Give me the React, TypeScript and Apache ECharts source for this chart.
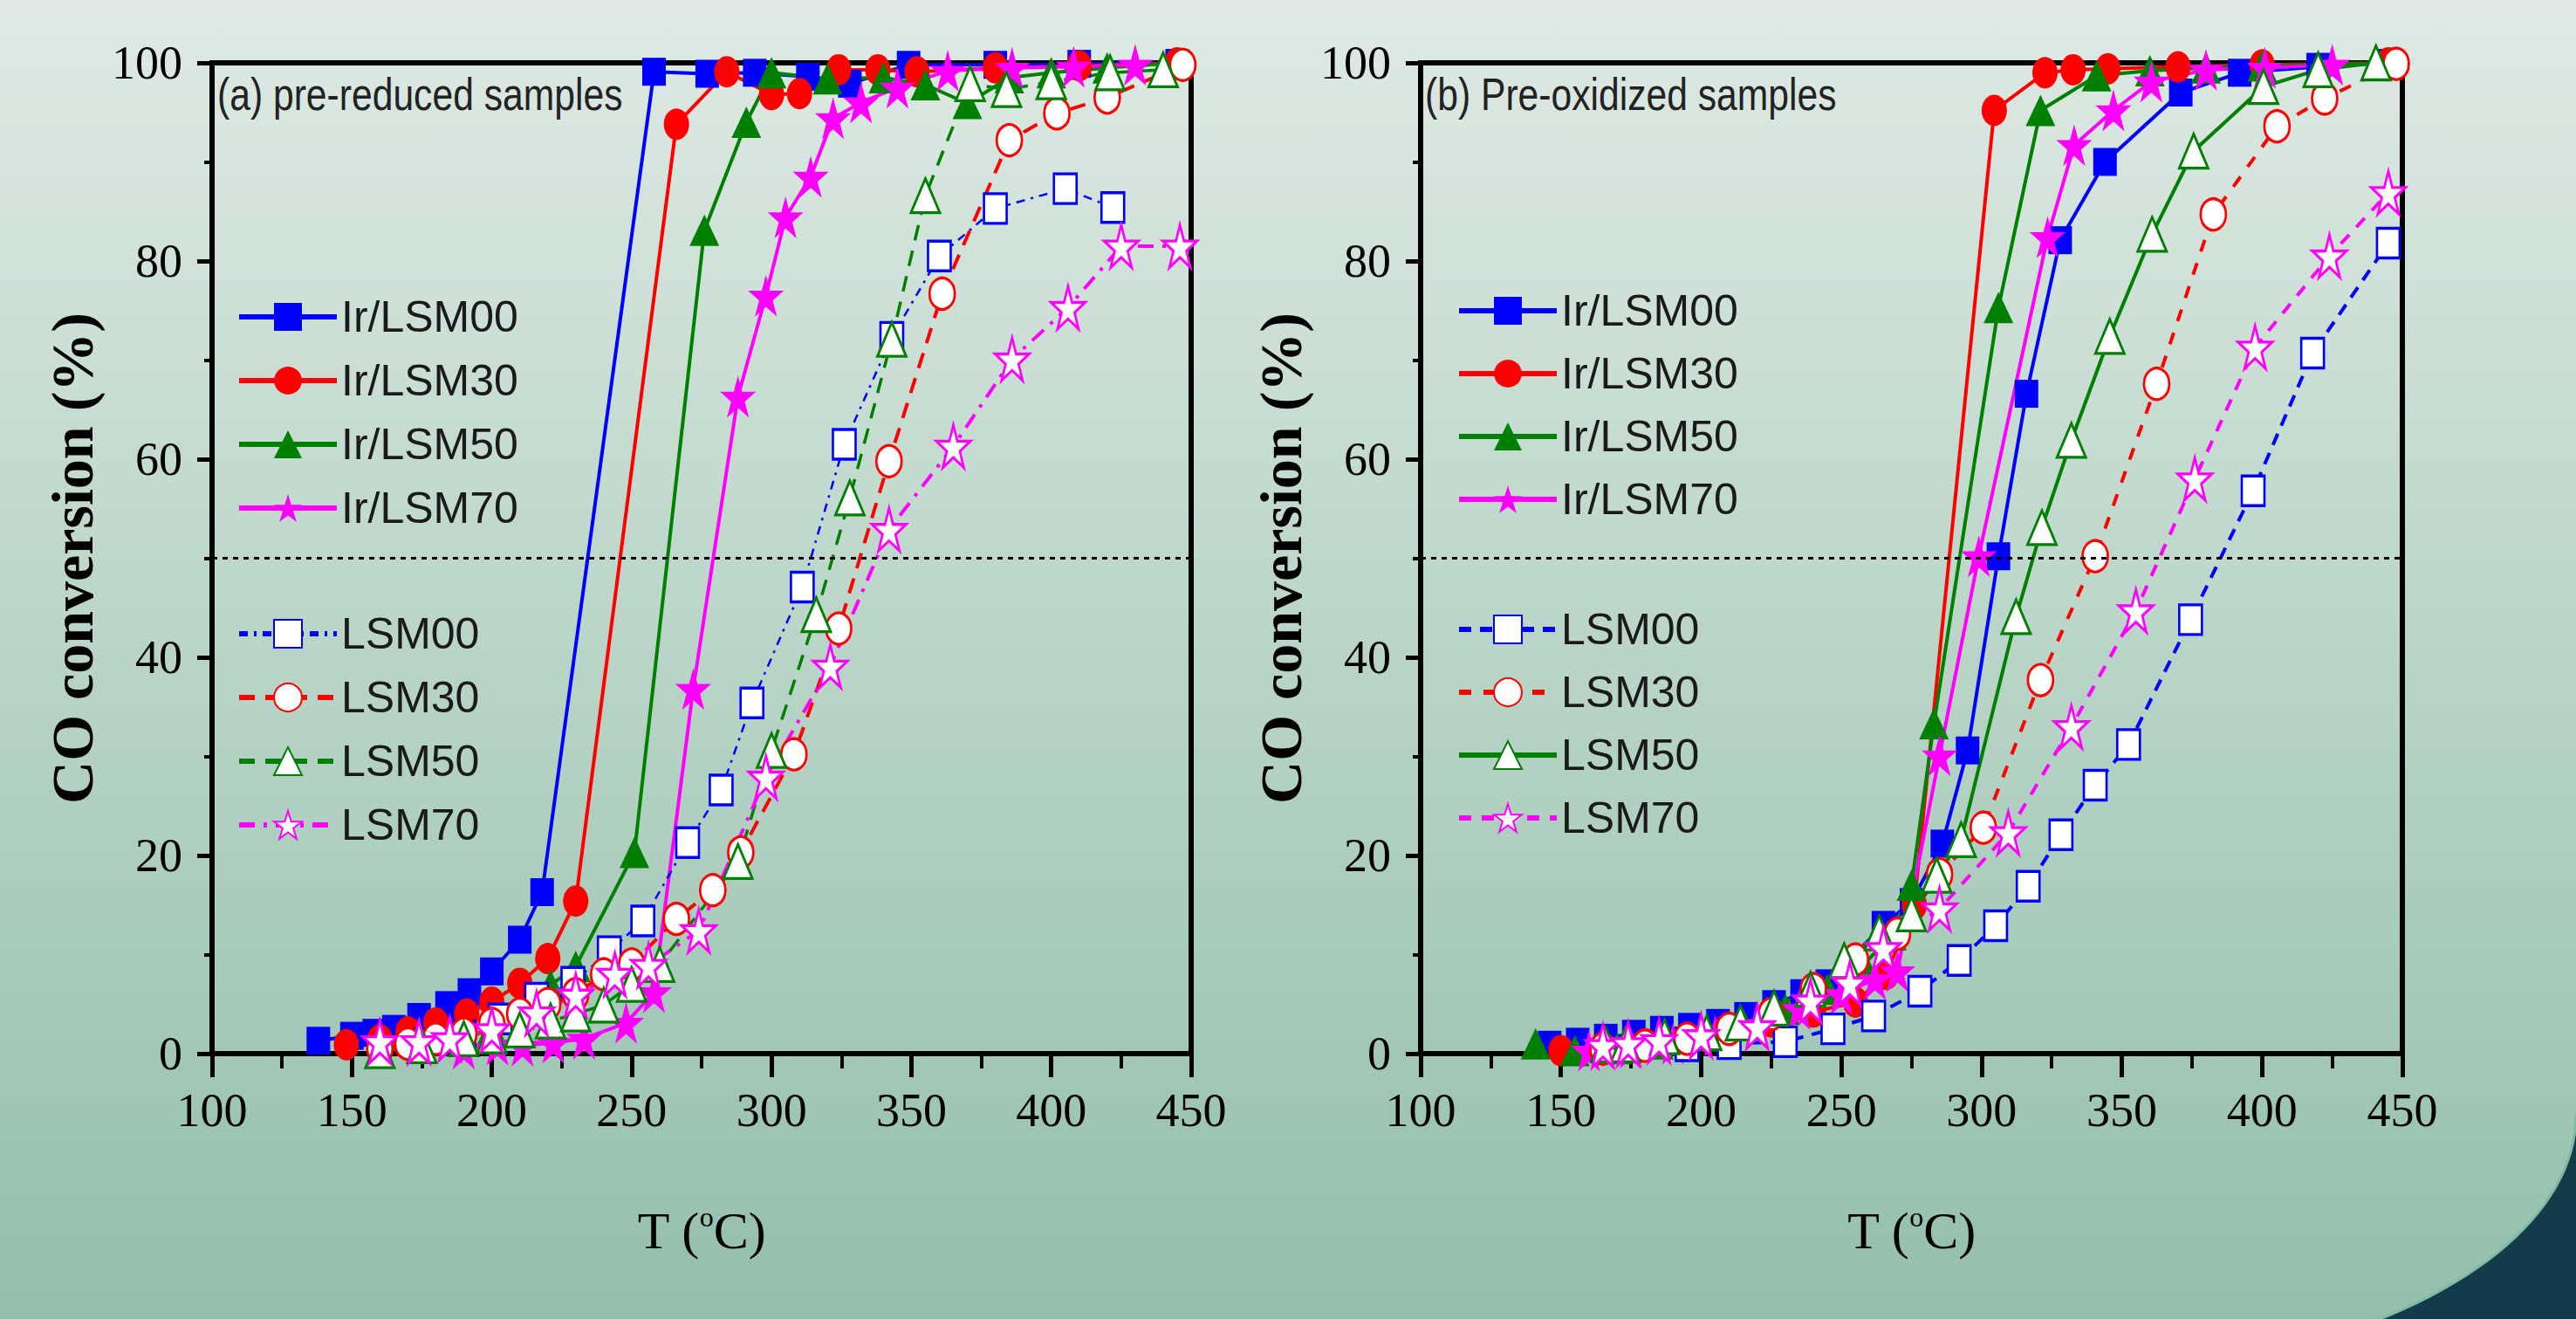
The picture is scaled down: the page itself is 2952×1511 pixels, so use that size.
import React, { useEffect, useRef } from "react";
import * as echarts from "echarts";

// ---------------- data (T in °C, CO conversion in %) ----------------
const irNames = ["Ir/LSM00", "Ir/LSM30", "Ir/LSM50", "Ir/LSM70"];
const lsmNames = ["LSM00", "LSM30", "LSM50", "LSM70"];
const panelTitles = ["(a) pre-reduced samples", "(b) Pre-oxidized samples"];
const yTitle = "CO conversion (%)";

// (a) pre-reduced
const irLsm00A = [[138,1.3],[150,1.8],[158,2.1],[165,2.5],[174,3.7],[184,4.9],[192,6.2],[200,8.3],[210,11.5],[218,16.3],[258,99.1],[277,98.9],[294,99.0],[313,98.6],[328,97.9],[349,99.8],[380,99.8],[410,99.9],[445,100]];
const irLsm30A = [[148,0.9],[160,1.4],[170,2.2],[180,3.1],[191,4.0],[200,5.2],[210,7.1],[220,9.6],[230,15.4],[266,93.8],[284,99.1],[300,96.8],[310,96.9],[324,99.3],[338,99.3],[352,99.1],[380,99.5],[410,99.7],[445,100]];
const irLsm50A = [[160,0.3],[175,0.8],[190,1.5],[200,2.5],[210,4.0],[221,6.9],[230,8.8],[251,20.3],[276,83.1],[291,94.0],[300,99.0],[320,98.4],[340,98.5],[355,97.8],[370,95.9],[385,98.5],[400,99.0],[420,99.5],[445,100]];
const irLsm70A = [[190,0.5],[202,0.9],[211,0.8],[222,1.1],[233,1.5],[248,3.1],[258,6.2],[272,36.8],[288,66.3],[298,76.5],[305,84.4],[314,88.5],[322,94.4],[332,96.0],[345,97.5],[363,99.2],[386,99.5],[408,99.6],[430,99.8]];
const lsm00A = [[175,1.0],[190,1.8],[203,3.5],[216,5.6],[229,7.2],[242,10.3],[254,13.4],[270,21.3],[282,26.6],[293,35.4],[311,47.1],[326,61.5],[343,72.3],[360,80.5],[380,85.3],[405,87.3],[422,85.4]];
const lsm30A = [[160,0.5],[170,1.0],[180,1.5],[190,2.0],[200,3.0],[210,4.0],[220,5.0],[230,6.0],[240,8.0],[250,9.0],[266,13.6],[279,16.5],[289,20.3],[308,30.2],[324,42.9],[342,59.8],[361,76.7],[385,92.2],[402,94.9],[420,96.5],[447,99.8]];
const lsm50A = [[160,0.3],[175,0.8],[190,1.5],[200,1.8],[210,2.4],[221,3.3],[230,4.0],[240,4.9],[250,7.0],[260,9.0],[288,19.4],[300,30.6],[316,44.3],[328,56.1],[343,72.1],[355,86.6],[371,97.9],[384,97.3],[400,98.1],[421,99.0],[440,99.3]];
const lsm70A = [[160,1.2],[174,1.2],[185,1.5],[200,2.4],[216,4.1],[230,5.9],[244,8.0],[256,8.9],[274,12.4],[298,27.9],[321,39.1],[342,52.9],[365,61.3],[386,70.1],[406,75.3],[425,81.5],[446,81.5]];

// (b) pre-oxidized
const irLsm00B = [[146,0.9],[156,1.2],[166,1.6],[176,2.0],[186,2.4],[196,2.7],[206,3.1],[216,3.8],[226,5.0],[236,6.1],[245,7.1],[265,13.0],[275,15.3],[286,21.2],[295,30.6],[306,50.2],[316,66.6],[328,82.1],[344,90.0],[371,97.0],[392,99.0],[420,99.6],[445,100]];
const irLsm30B = [[150,0.3],[165,0.6],[180,1.0],[195,1.6],[210,2.4],[225,3.2],[240,4.2],[255,5.2],[266,8.0],[276,15.0],[304.5,95.2],[322.6,99.0],[332.6,99.3],[345,99.4],[370,99.6],[400,99.8],[445,100]];
const irLsm50B = [[141,1.0],[155,0.3],[170,0.5],[185,1.0],[200,1.8],[215,3.0],[230,4.5],[245,6.5],[258,9.0],[268,12.0],[275,17.0],[283,33.3],[306,75.3],[321,95.2],[341,98.7],[360,99.2],[380,99.5],[400,99.7],[445,100]];
const irLsm70B = [[160,0.3],[175,0.6],[190,1.0],[205,1.8],[220,3.0],[235,4.5],[250,6.0],[262,7.5],[270,8.3],[285,30.1],[299,50.2],[323.5,82.4],[333,91.7],[347,95.2],[360.5,98.1],[380,99.3],[401,99.5],[425,99.8]];
const lsm00B = [[195,0.8],[210,1.0],[230,1.2],[247,2.5],[261.5,3.8],[278,6.3],[292,9.4],[305,12.9],[316.6,16.9],[328.3,22.1],[340.5,27.1],[352.4,31.2],[374.5,43.8],[396.8,56.8],[418,70.7],[445,81.8]];
const lsm30B = [[165,0.5],[180,0.8],[195,1.5],[210,2.5],[225,4.0],[240,6.5],[255,9.5],[270,12.1],[285,18.1],[300.6,22.8],[321,37.7],[340.5,50.2],[362.4,67.6],[382.6,84.7],[405.3,93.6],[422.3,96.4],[447.8,99.9]];
const lsm50B = [[166,0.9],[173,0.9],[187,1.7],[202,2.1],[214,3.1],[226,4.6],[239,6.5],[251,9.4],[263.5,12.2],[275,14.1],[284,18.0],[292.7,21.6],[312.3,44.1],[321.5,53.1],[332,61.9],[345.7,72.4],[360.8,82.7],[375.6,91.1],[400.5,97.6],[420,99.3],[440.6,100]];
const lsm70B = [[165,0.8],[174,1.0],[185,1.3],[200,1.8],[220,2.7],[239,5.3],[253,7.1],[265,10.6],[285,14.6],[309.5,22.3],[332,33.0],[355,44.7],[376,58.0],[397.5,71.3],[424,80.5],[445,86.9]];

// ---------------- styles ----------------
const BLUE = "#0000ff", RED = "#ff0000", GREEN = "#008000", MAGENTA = "#ff00ff";
const STAR = "path://M50,0L61.2,34.5L97.6,34.5L68.2,55.9L79.4,90.5L50,69.1L20.6,90.5L31.8,55.9L2.4,34.5L38.8,34.5Z";
const SANS = "'Liberation Sans', Arial, sans-serif";
const SERIF = "'Liberation Serif', 'Times New Roman', serif";

type Look = { color: string; symbol: string; size: number[]; open: boolean; dash: any; width: number };

const looksA: Look[] = [
  { color: BLUE, symbol: "rect", size: [27, 32], open: false, dash: "solid", width: 4 },
  { color: RED, symbol: "circle", size: [29, 36], open: false, dash: "solid", width: 4 },
  { color: GREEN, symbol: "triangle", size: [34, 36], open: false, dash: "solid", width: 4 },
  { color: MAGENTA, symbol: STAR, size: [41, 48], open: false, dash: "solid", width: 4 },
  { color: BLUE, symbol: "rect", size: [26, 34], open: true, dash: [10, 7, 3, 7], width: 2.5 },
  { color: RED, symbol: "circle", size: [29, 36], open: true, dash: [18, 12], width: 4 },
  { color: GREEN, symbol: "triangle", size: [33, 39], open: true, dash: [18, 12], width: 3.5 },
  { color: MAGENTA, symbol: STAR, size: [39, 49], open: true, dash: [18, 10, 4, 10], width: 4 },
];
const looksB: Look[] = [
  looksA[0], looksA[1], looksA[2], looksA[3],
  { color: BLUE, symbol: "rect", size: [26, 34], open: true, dash: [14, 10], width: 4 },
  { color: RED, symbol: "circle", size: [29, 36], open: true, dash: [14, 14], width: 4 },
  { color: GREEN, symbol: "triangle", size: [33, 39], open: true, dash: "solid", width: 4 },
  { color: MAGENTA, symbol: STAR, size: [39, 49], open: true, dash: [14, 12], width: 4 },
];

function makeSeries(name: string, data: number[][], look: Look, withRef: boolean) {
  const s: any = {
    type: "line",
    name,
    data,
    symbol: look.symbol,
    symbolSize: look.size,
    symbolKeepAspect: false,
    showSymbol: true,
    lineStyle: { color: look.color, width: look.width, type: look.dash },
    itemStyle: look.open
      ? { color: "#ffffff", borderColor: look.color, borderWidth: 3 }
      : { color: look.color, borderColor: look.color, borderWidth: 0 },
    emphasis: { disabled: true },
  };
  if (withRef) {
    s.markLine = {
      silent: true,
      symbol: ["none", "none"],
      label: { show: false },
      lineStyle: { color: "#000", type: [6, 6], width: 3 },
      data: [{ yAxis: 50 }],
    };
  }
  return s;
}

function buildOption(p: {
  grid: any; title: string; titleLeft: number; nameGap: number; legendLeft: number;
  legTop1: number; legTop2: number; legGap: number; sets: number[][][]; looks: Look[]; graphic?: any[];
}) {
  const names = [...irNames, ...lsmNames];
  const series = names.map((n, i) => makeSeries(n, p.sets[i] as any, p.looks[i], i === 0));
  const legendCommon = {
    orient: "vertical",
    left: p.legendLeft,
    itemWidth: 112,
    itemHeight: 40,
    itemGap: p.legGap,
    selectedMode: false,
    lineStyle: { width: 6 },
    textStyle: { fontFamily: SANS, fontSize: 50, lineHeight: 54, color: "#1a1a1a" },
  };
  const titleText = {
    type: "text",
    left: p.titleLeft,
    top: 82,
    scaleX: 0.82,
    silent: true,
    style: { text: p.title, fontFamily: SANS, fontSize: 52, fill: "#222" },
  };
  return {
    animation: false,
    backgroundColor: "transparent",
    legend: [
      { ...legendCommon, top: p.legTop1, data: irNames },
      { ...legendCommon, top: p.legTop2, data: lsmNames },
    ],
    grid: { ...p.grid, show: true, borderColor: "#000", borderWidth: 6, backgroundColor: "transparent" },
    xAxis: {
      type: "value",
      min: 100,
      max: 450,
      interval: 50,
      name: "T ({sup|o}C)",
      nameLocation: "middle",
      nameGap: 171,
      nameTextStyle: {
        fontFamily: SERIF, fontSize: 60, color: "#000", lineHeight: 64,
        rich: { sup: { fontFamily: SERIF, fontSize: 32, lineHeight: 32, verticalAlign: "top", color: "#000" } },
      },
      axisLine: { show: true, onZero: false, lineStyle: { color: "#000", width: 6 } },
      axisTick: { show: true, inside: false, length: 27, lineStyle: { color: "#000", width: 5 } },
      minorTick: { show: true, splitNumber: 2, length: 17, lineStyle: { color: "#000", width: 4 } },
      axisLabel: { fontFamily: SERIF, fontSize: 54, color: "#000", margin: 38 },
      splitLine: { show: false },
    },
    yAxis: {
      type: "value",
      min: 0,
      max: 100,
      interval: 20,
      name: yTitle,
      nameLocation: "middle",
      nameGap: p.nameGap,
      nameTextStyle: { fontFamily: SERIF, fontSize: 68, fontWeight: "bold", color: "#000" },
      axisLine: { show: true, onZero: false, lineStyle: { color: "#000", width: 6 } },
      axisTick: { show: true, inside: false, length: 17, lineStyle: { color: "#000", width: 5 } },
      minorTick: { show: true, splitNumber: 2, length: 9, lineStyle: { color: "#000", width: 4 } },
      axisLabel: { fontFamily: SERIF, fontSize: 54, color: "#000", margin: 34 },
      splitLine: { show: false },
    },
    graphic: [...(p.graphic || []), titleText],
    series,
  };
}

// decorative dark corner of the slide (bottom-right), right chart coordinates
function cornerGraphic() {
  const cx = 932, cy = 1277, a = 600, b = 300;
  const arc: number[][] = [];
  for (let d = 0; d <= 70; d += 2) {
    const t = (d * Math.PI) / 180;
    arc.push([cx + a * Math.cos(t), cy + b * Math.sin(t)]);
  }
  const poly = [...arc, [1650, 1650], [1650, cy]];
  return [
    { type: "polygon", z: -10, silent: true, shape: { points: poly }, style: { fill: "#133b4a" } },
    { type: "polyline", z: -9, silent: true, shape: { points: arc }, style: { stroke: "#7dbba4", lineWidth: 3, fill: "none" } },
  ];
}

function Chart({ option, style }: { option: any; style: React.CSSProperties }) {
  const ref = useRef<HTMLDivElement>(null);
  useEffect(() => {
    if (!ref.current) return;
    const chart = echarts.init(ref.current, undefined, { renderer: "svg" });
    chart.setOption(option);
    return () => chart.dispose();
  }, [option]);
  return <div ref={ref} style={style} />;
}

const optionA = buildOption({
  grid: { left: 243, right: 1420 - 1365, top: 72, bottom: 1511 - 1207 },
  title: panelTitles[0],
  titleLeft: 249,
  nameGap: 120,
  legendLeft: 266,
  legTop1: 331,
  legTop2: 694,
  legGap: 19,
  sets: [irLsm00A, irLsm30A, irLsm50A, irLsm70A, lsm00A, lsm30A, lsm50A, lsm70A],
  looks: looksA,
});

const optionB = buildOption({
  grid: { left: 208, right: 199, top: 72, bottom: 1511 - 1207 },
  title: panelTitles[1],
  titleLeft: 213,
  nameGap: 123,
  legendLeft: 244,
  legTop1: 324,
  legTop2: 689,
  legGap: 18,
  sets: [irLsm00B, irLsm30B, irLsm50B, irLsm70B, lsm00B, lsm30B, lsm50B, lsm70B],
  looks: looksB,
  graphic: cornerGraphic(),
});

export default function App() {
  return (
    <div
      style={{
        position: "fixed",
        left: 0,
        top: 0,
        width: 2952,
        height: 1511,
        overflow: "hidden",
        background: "linear-gradient(to bottom, #dfeae4 0%, #93bfab 100%)",
      }}
    >
      <Chart option={optionA} style={{ position: "absolute", left: 0, top: 0, width: 1420, height: 1511 }} />
      <Chart option={optionB} style={{ position: "absolute", left: 1420, top: 0, width: 1532, height: 1511 }} />
    </div>
  );
}
